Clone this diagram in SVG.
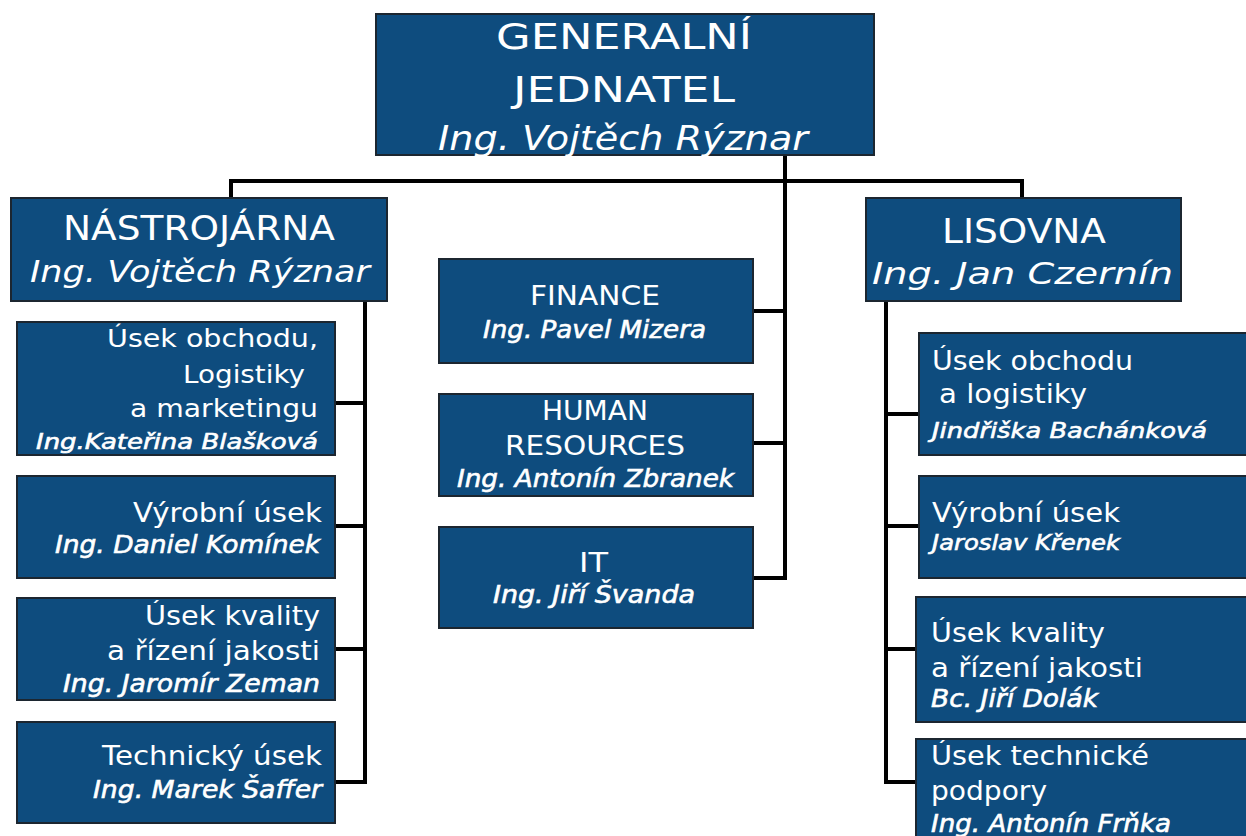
<svg xmlns="http://www.w3.org/2000/svg" width="1246" height="836" viewBox="0 0 1246 836">
<style>
.box{fill:#0e4c7e;stroke:#1c2630;stroke-width:2}
text{fill:#ffffff;font-family:"DejaVu Sans","Verdana",sans-serif}
.it{font-style:italic}
.nm{font-style:italic;stroke:#ffffff;stroke-width:0.6}
.con{fill:none;stroke:#000;stroke-width:4}
</style>
<rect width="1246" height="836" fill="#ffffff"/>
<g id="connectors">
<path class="con" d="M785 155V580M229 181H1024M231 181V198M1022 181V198M753 311H785M753 443H785M753 578H787"/>
<path class="con" d="M365 301V784M335 403H365M335 526H365M335 649H365M335 782H367"/>
<path class="con" d="M886 301V784M884 414H919M886 526H919M886 649H916M884 782H916"/>
</g>
<g id="n-general">
<rect class="box" x="376" y="14" width="498" height="141"/>
<text x="496" y="49" font-size="35" textLength="256" lengthAdjust="spacingAndGlyphs">GENERALNÍ</text>
<text x="513" y="102" font-size="35" textLength="222" lengthAdjust="spacingAndGlyphs">JEDNATEL</text>
<text class="it" x="438" y="150" font-size="33" textLength="370" lengthAdjust="spacingAndGlyphs">Ing. Vojtěch Rýznar</text>
</g>
<g id="n-nastrojarna">
<rect class="box" x="11" y="198" width="376" height="103"/>
<text x="63" y="240" font-size="33" textLength="272" lengthAdjust="spacingAndGlyphs">NÁSTROJÁRNA</text>
<text class="it" x="30" y="282" font-size="31" textLength="340" lengthAdjust="spacingAndGlyphs">Ing.  Vojtěch Rýznar</text>
</g>
<g id="n-l-obchod">
<rect class="box" x="17" y="322" width="318" height="133"/>
<text x="107" y="347" font-size="25" textLength="211" lengthAdjust="spacingAndGlyphs">Úsek obchodu,</text>
<text x="183" y="383" font-size="25" textLength="122" lengthAdjust="spacingAndGlyphs">Logistiky</text>
<text x="130" y="417" font-size="25" textLength="188" lengthAdjust="spacingAndGlyphs">a marketingu</text>
<text class="nm" x="36" y="449" font-size="21" textLength="282" lengthAdjust="spacingAndGlyphs">Ing.Kateřina Blašková</text>
</g>
<g id="n-l-vyroba">
<rect class="box" x="17" y="476" width="318" height="102"/>
<text x="133" y="522" font-size="26" textLength="189" lengthAdjust="spacingAndGlyphs">Výrobní úsek</text>
<text class="nm" x="55" y="553" font-size="24" textLength="265" lengthAdjust="spacingAndGlyphs">Ing. Daniel Komínek</text>
</g>
<g id="n-l-kvalita">
<rect class="box" x="17" y="598" width="318" height="102"/>
<text x="145" y="625" font-size="26" textLength="175" lengthAdjust="spacingAndGlyphs">Úsek kvality</text>
<text x="107" y="660" font-size="26" textLength="213" lengthAdjust="spacingAndGlyphs">a řízení jakosti</text>
<text class="nm" x="63" y="692" font-size="24" textLength="257" lengthAdjust="spacingAndGlyphs">Ing. Jaromír Zeman</text>
</g>
<g id="n-l-technicky">
<rect class="box" x="17" y="722" width="318" height="101"/>
<text x="102" y="765" font-size="26" textLength="220" lengthAdjust="spacingAndGlyphs">Technický úsek</text>
<text class="nm" x="93" y="798" font-size="24" textLength="229" lengthAdjust="spacingAndGlyphs">Ing. Marek Šaffer</text>
</g>
<g id="n-finance">
<rect class="box" x="439" y="259" width="314" height="104"/>
<text x="530" y="305" font-size="27" textLength="130" lengthAdjust="spacingAndGlyphs">FINANCE</text>
<text class="nm" x="483" y="338" font-size="24" textLength="223" lengthAdjust="spacingAndGlyphs">Ing. Pavel Mizera</text>
</g>
<g id="n-hr">
<rect class="box" x="439" y="394" width="314" height="102"/>
<text x="542" y="420" font-size="27" textLength="106" lengthAdjust="spacingAndGlyphs">HUMAN</text>
<text x="505" y="455" font-size="27" textLength="180" lengthAdjust="spacingAndGlyphs">RESOURCES</text>
<text class="nm" x="457" y="487" font-size="24" textLength="277" lengthAdjust="spacingAndGlyphs">Ing. Antonín Zbranek</text>
</g>
<g id="n-it">
<rect class="box" x="439" y="527" width="314" height="101"/>
<text x="579" y="572" font-size="27" textLength="29" lengthAdjust="spacingAndGlyphs">IT</text>
<text class="nm" x="493" y="603" font-size="24" textLength="202" lengthAdjust="spacingAndGlyphs">Ing. Jiří Švanda</text>
</g>
<g id="n-lisovna">
<rect class="box" x="866" y="198" width="315" height="103"/>
<text x="942" y="243" font-size="33" textLength="164" lengthAdjust="spacingAndGlyphs">LISOVNA</text>
<text class="it" x="872" y="284" font-size="31" textLength="301" lengthAdjust="spacingAndGlyphs">Ing. Jan Czernín</text>
</g>
<g id="n-r-obchod">
<rect class="box" x="919" y="333" width="332" height="122"/>
<text x="932" y="370" font-size="26" textLength="201" lengthAdjust="spacingAndGlyphs">Úsek obchodu</text>
<text x="939" y="403" font-size="26" textLength="148" lengthAdjust="spacingAndGlyphs">a logistiky</text>
<text class="nm" x="932" y="438" font-size="22" textLength="275" lengthAdjust="spacingAndGlyphs">Jindřiška Bachánková</text>
</g>
<g id="n-r-vyroba">
<rect class="box" x="919" y="476" width="332" height="102"/>
<text x="932" y="522" font-size="26" textLength="188" lengthAdjust="spacingAndGlyphs">Výrobní úsek</text>
<text class="nm" x="932" y="550" font-size="21" textLength="188" lengthAdjust="spacingAndGlyphs">Jaroslav Křenek</text>
</g>
<g id="n-r-kvalita">
<rect class="box" x="916" y="597" width="335" height="125"/>
<text x="931" y="642" font-size="26" textLength="174" lengthAdjust="spacingAndGlyphs">Úsek kvality</text>
<text x="931" y="677" font-size="26" textLength="212" lengthAdjust="spacingAndGlyphs">a řízení jakosti</text>
<text class="nm" x="931" y="707" font-size="24" textLength="167" lengthAdjust="spacingAndGlyphs">Bc. Jiří Dolák</text>
</g>
<g id="n-r-technicke">
<rect class="box" x="916" y="739" width="335" height="110"/>
<text x="931" y="765" font-size="26" textLength="218" lengthAdjust="spacingAndGlyphs">Úsek technické</text>
<text x="931" y="800" font-size="26" textLength="116" lengthAdjust="spacingAndGlyphs">podpory</text>
<text class="nm" x="931" y="832" font-size="24" textLength="240" lengthAdjust="spacingAndGlyphs">Ing. Antonín Frňka</text>
</g>
</svg>
